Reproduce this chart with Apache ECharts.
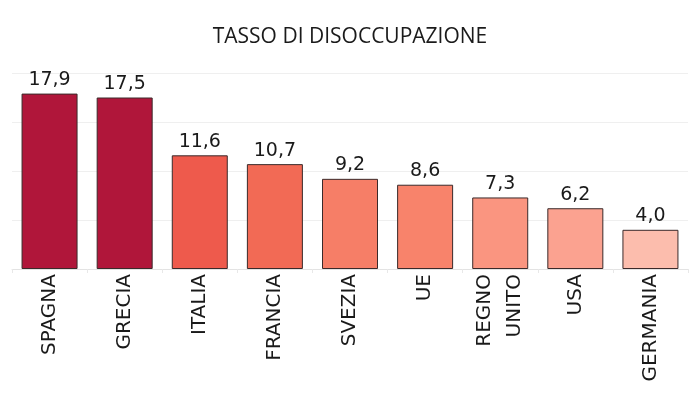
<!DOCTYPE html>
<html><head><meta charset="utf-8">
<script src="https://cdn.jsdelivr.net/npm/echarts@6/dist/echarts.min.js"></script>
<style>html,body{margin:0;padding:0;background:#fff}#c{width:700px;height:400px}</style>
</head><body><div id="c"></div>
<script>
const categories = ['SPAGNA','GRECIA','ITALIA','FRANCIA','SVEZIA','UE','REGNO\nUNITO','USA','GERMANIA'];
const values = [17.9, 17.5, 11.6, 10.7, 9.2, 8.6, 7.3, 6.2, 4.0];
const barColors = ['#B0163A','#B0163A','#EE5A4C','#F26A55','#F67E67','#F8836B','#FA9580','#FBA290','#FCBDAD'];

const chart = echarts.init(document.getElementById('c'), null, {renderer:'canvas'});
chart.setOption({
  animation:false,
  title:{text:'TASSO DI DISOCCUPAZIONE', left:'center', top:22,
    textStyle:{fontFamily:'Open Sans', fontWeight:'normal', fontSize:21, color:'#1a1a1a'}},
  grid:{left:12, right:12, top:73, bottom:131, containLabel:false},
  xAxis:{type:'category', data:categories,
    axisLine:{show:true, lineStyle:{color:'#e3e3e3'}},
    axisTick:{show:true, alignWithLabel:false, length:4, lineStyle:{color:'#e8e8e8'}},
    axisLabel:{rotate:90, interval:0, margin:5, fontFamily:"'DejaVu Sans'", fontSize:20, color:'#1a1a1a', lineHeight:30}
  },
  yAxis:{type:'value', min:0, max:20, interval:5,
    axisLabel:{show:false}, axisLine:{show:false}, axisTick:{show:false},
    splitLine:{lineStyle:{color:'#efefef'}}},
  series:[{type:'bar', barWidth:56,
    data: values.map((v,i)=>({value:v, itemStyle:{color:barColors[i]}})),
    itemStyle:{borderColor:'#3a2a2a', borderWidth:1},
    label:{show:true, position:'top', distance:4, fontFamily:"'DejaVu Sans'", fontSize:19, color:'#1a1a1a',
      formatter:p=>p.value.toFixed(1).replace('.',',')}
  }]
});
</script></body></html>
